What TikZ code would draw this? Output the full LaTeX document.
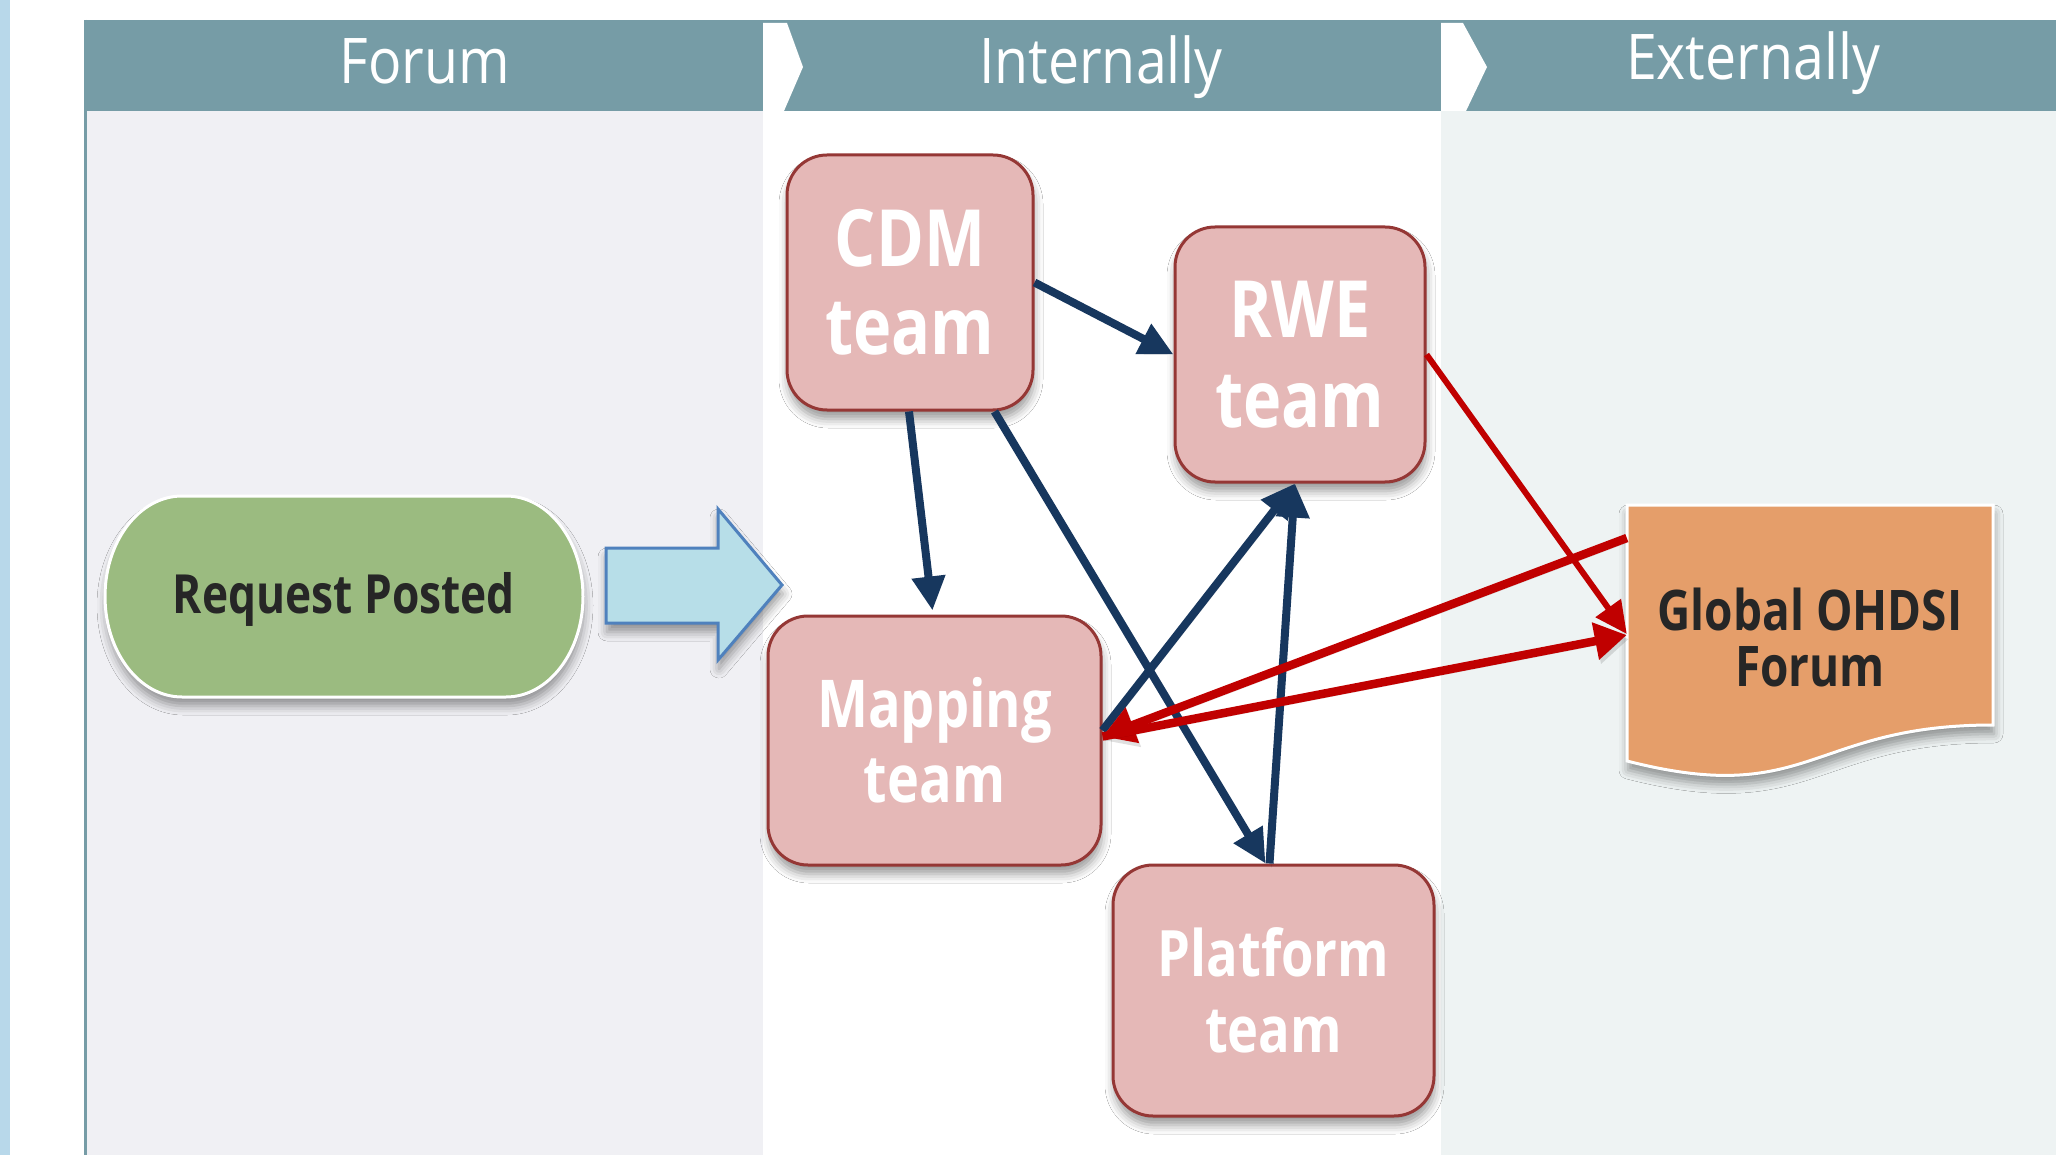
\documentclass[tikz,border=0pt]{standalone}
\usepackage{fontspec}
\setmainfont{Open Sans}
\newfontfamily\boxfont[FakeStretch=0.82]{Open Sans}
\newfontfamily\headfont[FakeStretch=0.88]{Open Sans}
\usetikzlibrary{arrows.meta,shadows.blur,calc}
\definecolor{strip}{RGB}{184,216,234}
\definecolor{forumbg}{RGB}{240,240,244}
\definecolor{extbg}{RGB}{238,243,243}
\definecolor{hdr}{RGB}{118,156,166}
\definecolor{boxfill}{RGB}{229,184,183}
\definecolor{boxborder}{RGB}{149,55,53}
\definecolor{reqgreen}{RGB}{155,187,128}
\definecolor{arrowfill}{RGB}{183,222,232}
\definecolor{arrowborder}{RGB}{79,129,189}
\definecolor{globfill}{RGB}{229,158,106}
\definecolor{arrowblue}{RGB}{23,55,94}
\definecolor{redc}{RGB}{192,0,0}
\definecolor{darktext}{RGB}{38,38,38}
\begin{document}
\begin{tikzpicture}[x=1pt,y=1pt,
  softshadow/.style={blur shadow={shadow xshift=1pt,shadow yshift=-9pt,shadow blur radius=9pt,shadow opacity=40}},
  lineshadow/.style={preaction={draw=black,draw opacity=0.12,fill opacity=0.12,transform canvas={xshift=2pt,yshift=-4pt}}},
  team/.style={draw=boxborder,line width=3pt,fill=boxfill,rounded corners=40pt,text=white,align=center,inner sep=0pt,softshadow},
  headtext/.style={anchor=base,text=white,font={\headfont\fontsize{63}{70}\selectfont}},
  bluearrow/.style={draw=arrowblue,line width=8pt,-{Triangle[length=34pt,width=32pt]},lineshadow},
  redthin/.style={draw=redc,line width=6pt,-{Triangle[length=32pt,width=30pt]},lineshadow},
  redthick/.style={draw=redc,line width=8.5pt,-{Triangle[length=32pt,width=36pt]},lineshadow}]
\useasboundingbox (0,0) rectangle (2056,-1155);
% backgrounds
\fill[white] (0,0) rectangle (2056,-1155);
\fill[strip] (0,0) rectangle (10,-1155);
\fill[forumbg] (85,-111) rectangle (763,-1155);
\fill[extbg] (1441,-111) rectangle (2056,-1155);
\fill[hdr] (85,-20) rectangle (2056,-111);
\fill[white] (763,-23) -- (787,-23) -- (803,-67) -- (784,-111) -- (763,-111) -- cycle;
\fill[white] (1441,-23) -- (1463,-23) -- (1487,-67) -- (1466,-111) -- (1441,-111) -- cycle;
\draw[hdr,line width=3pt] (85,-20) -- (85,-1155);
% header labels
\node[headtext] (hforum) at (425,-84) {Forum};
\node[headtext] (hint) at (1101,-84) {Internally};
\node[headtext] (hext) at (1753,-80) {Externally};
% request posted
\draw[fill=reqgreen,draw=white,line width=3pt,softshadow]
  (182,-496) -- (506,-496) arc[start angle=90,end angle=-90,x radius=77,y radius=100.5]
  -- (182,-697) arc[start angle=270,end angle=90,x radius=77,y radius=100.5] -- cycle;
\node[text=darktext,font={\boxfont\bfseries\fontsize{54}{60}\selectfont}] (req) at (344,-599) {Request Posted};
% block arrow
\draw[fill=arrowfill,draw=arrowborder,line width=3pt,softshadow]
  (606,-548) -- (718,-548) -- (718,-509) -- (782,-585) -- (718,-660) -- (718,-623) -- (606,-623) -- cycle;
% teams
\node[team,minimum width=246pt,minimum height=255pt,font={\boxfont\bfseries\fontsize{79}{88}\selectfont}] (cdm) at (910,-282.5) {CDM\\team};
\node[team,minimum width=250pt,minimum height=255pt,font={\boxfont\bfseries\fontsize{79}{90}\selectfont}] (rwe) at (1300,-354.5) {RWE\\team};
\node[team,minimum width=333pt,minimum height=249pt,font={\boxfont\bfseries\fontsize{66}{75}\selectfont}] (map) at (934.5,-740.5) {Mapping\\team};
\node[team,minimum width=321pt,minimum height=251pt,font={\boxfont\bfseries\fontsize{64}{76}\selectfont}] (plat) at (1273.5,-990.5) {Platform\\team};
% global forum document
\draw[fill=globfill,draw=white,line width=3pt,softshadow]
  (1627,-505) -- (1993,-505) -- (1993,-725) .. controls (1810,-725) and (1810,-808) .. (1627,-761) -- cycle;
\node[text=darktext,align=center,inner sep=0pt,minimum width=366pt,minimum height=264pt,font={\boxfont\bfseries\fontsize{56}{56}\selectfont}] (glob) at (1810,-637) {Global OHDSI\\Forum};
% connectors
\draw[bluearrow] (cdm.east) -- (rwe.west);
\draw[bluearrow] ([xshift=-1pt]cdm.south) -- ([xshift=-2pt,yshift=4pt]map.north);
\draw[bluearrow] ([xshift=-40pt]cdm.south east) -- ([xshift=-8pt]plat.north);
\draw[bluearrow] ([yshift=10pt]map.east) -- ([xshift=-5pt]rwe.south);
\draw[bluearrow] ([xshift=-4pt]plat.north) -- ([xshift=-5pt]rwe.south);
\draw[redthin] (rwe.east) -- ([yshift=3pt]glob.west);
\draw[redthick] ([yshift=99pt]glob.west) -- ([yshift=4pt]map.east);
\draw[redthick] ([yshift=4pt]map.east) -- ([yshift=2pt]glob.west);
\end{tikzpicture}
\end{document}
